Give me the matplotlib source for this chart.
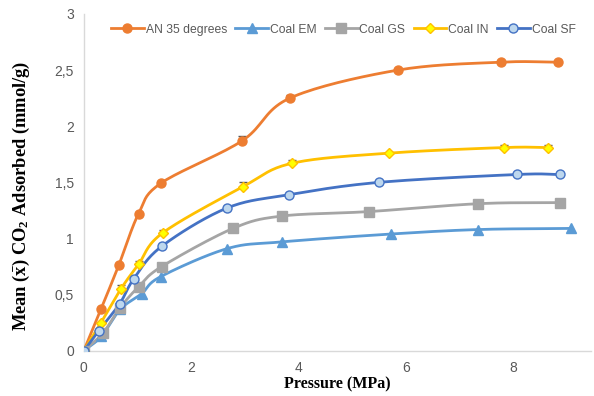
import numpy as np
import matplotlib.pyplot as plt

plt.rcParams['font.family'] = ['Liberation Sans', 'DejaVu Sans']
plt.rcParams['mathtext.fontset'] = 'custom'
plt.rcParams['mathtext.rm'] = 'Liberation Serif:bold'
plt.rcParams['mathtext.it'] = 'Liberation Serif:bold'
plt.rcParams['mathtext.bf'] = 'Liberation Serif:bold'

# Adsorption isotherm data (pressure in MPa, uptake in mmol/g)
an_p = [0, 0.32, 0.65, 1.02, 1.43, 2.95, 3.84, 5.86, 7.77, 8.83]
an_q = [0, 0.37, 0.76, 1.22, 1.49, 1.87, 2.25, 2.50, 2.57, 2.57]
an_err = [0, 0, 0, 0, 0, 0.04, 0.03, 0, 0, 0]

em_p = [0, 0.33, 0.68, 1.08, 1.43, 2.67, 3.69, 5.72, 7.35, 9.07]
em_q = [0, 0.13, 0.37, 0.51, 0.66, 0.91, 0.97, 1.04, 1.08, 1.09]

gs_p = [0, 0.36, 0.67, 1.02, 1.45, 2.78, 3.69, 5.32, 7.35, 8.87]
gs_q = [0, 0.16, 0.38, 0.57, 0.75, 1.09, 1.20, 1.24, 1.31, 1.32]

in_p = [0, 0.32, 0.69, 1.02, 1.47, 2.96, 3.88, 5.68, 7.83, 8.65]
in_q = [0, 0.25, 0.55, 0.77, 1.05, 1.46, 1.67, 1.76, 1.81, 1.81]
in_err = [0, 0, 0.04, 0.03, 0.03, 0.04, 0.03, 0, 0.02, 0.02]

sf_p = [0, 0.28, 0.67, 0.93, 1.45, 2.66, 3.82, 5.50, 8.07, 8.87]
sf_q = [0, 0.18, 0.42, 0.64, 0.93, 1.27, 1.39, 1.50, 1.57, 1.57]


def smooth(x, y, n=20):
    # Catmull-Rom curve through the points, like Excel's smoothed line
    x = np.asarray(x, float)
    y = np.asarray(y, float)
    px = np.concatenate([[2 * x[0] - x[1]], x, [2 * x[-1] - x[-2]]])
    py = np.concatenate([[2 * y[0] - y[1]], y, [2 * y[-1] - y[-2]]])
    t = np.linspace(0, 1, n)
    xs, ys = [], []
    for i in range(1, len(px) - 2):
        for arr, out in ((px, xs), (py, ys)):
            p0, p1, p2, p3 = arr[i - 1], arr[i], arr[i + 1], arr[i + 2]
            out.append(0.5 * (2 * p1 + (-p0 + p2) * t
                              + (2 * p0 - 5 * p1 + 4 * p2 - p3) * t ** 2
                              + (-p0 + 3 * p1 - 3 * p2 + p3) * t ** 3))
    return np.concatenate(xs), np.concatenate(ys)


fig, ax = plt.subplots(figsize=(5.94, 3.96), dpi=100)
fig.subplots_adjust(left=0.141, right=0.995, bottom=0.114, top=0.965)

series = [
    ("AN 35 degrees", an_p, an_q, dict(color='#ED7D31', marker='o', ms=6.5,
                                        mfc='#ED7D31', mec='#ED7D31')),
    ("Coal EM", em_p, em_q, dict(color='#5B9BD5', marker='^', ms=6.5,
                                 mfc='#5B9BD5', mec='#5B9BD5')),
    ("Coal GS", gs_p, gs_q, dict(color='#A5A5A5', marker='s', ms=6.5,
                                 mfc='#A5A5A5', mec='#A5A5A5')),
    ("Coal IN", in_p, in_q, dict(color='#FFC000', marker='D', ms=5,
                                 mfc='#FFFF00', mec='#FFC000')),
    ("Coal SF", sf_p, sf_q, dict(color='#4472C4', marker='o', ms=6.5,
                                 mfc='#BDD7EE', mec='#4472C4')),
]

# error bars (upper side only)
for p, q, e in ((an_p, an_q, an_err), (in_p, in_q, in_err)):
    ax.errorbar(p, q, yerr=[np.zeros(len(e)), e], fmt='none',
                ecolor='#595959', elinewidth=0.8, capsize=3, zorder=2)

for label, p, q, style in series:
    xs, ys = smooth(p, q)
    color = style['color']
    ax.plot(xs, ys, color=color, lw=2.0, zorder=3)
    ax.plot(p, q, ls='none', marker=style['marker'], ms=style['ms'],
            mfc=style['mfc'], mec=style['mec'], mew=1.0, zorder=4)
    ax.plot([], [], color=color, lw=2.0, marker=style['marker'],
            ms=style['ms'], mfc=style['mfc'], mec=style['mec'], label=label)

ax.set_xlim(0, 9.45)
ax.set_ylim(0, 3)
ax.set_xticks([0, 2, 4, 6, 8])
ax.set_yticks([0, 0.5, 1, 1.5, 2, 2.5, 3])
ax.set_yticklabels(['0', '0,5', '1', '1,5', '2', '2,5', '3'])
ax.tick_params(length=0, labelsize=10, colors='#595959', pad=7)

for s in ('top', 'right'):
    ax.spines[s].set_visible(False)
for s in ('left', 'bottom'):
    ax.spines[s].set_color('#D9D9D9')
    ax.spines[s].set_linewidth(1.0)

ax.set_xlabel('Pressure (MPa)', fontsize=11.5, fontweight='bold',
              family='Liberation Serif', labelpad=1)
ax.set_ylabel(r'Mean ($\bar{x}$) CO$_2$ Adsorbed (mmol/g)', fontsize=13.3,
              fontweight='bold', family='Liberation Serif')
ax.yaxis.set_label_coords(-0.102, 0.46)

leg = ax.legend(loc='upper left', bbox_to_anchor=(0.035, 1.0), ncol=5,
                frameon=False, fontsize=8.7, handlelength=2.7,
                handletextpad=0.15, columnspacing=0.7,
                borderaxespad=0.4)
for t in leg.get_texts():
    t.set_color('#595959')

fig.savefig('out.png', dpi=100)
